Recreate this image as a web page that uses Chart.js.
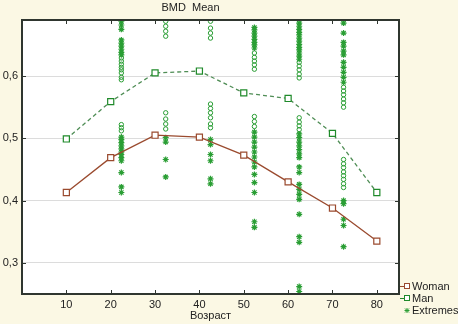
<!DOCTYPE html>
<html><head><meta charset="utf-8">
<script src="https://cdn.jsdelivr.net/npm/chart.js@4.4.1/dist/chart.umd.min.js"></script>
<style>html,body{margin:0;padding:0;background:#fbf8e4;} #wrap{width:458px;height:324px;}</style>
</head><body><div id="wrap"><canvas id="c" width="458" height="324"></canvas></div>
<script>
const chartTitle = 'BMD  Mean';
const xTitle = 'Возраст';
const ages = [10, 20, 30, 40, 50, 60, 70, 80];
const womanMean = [0.413, 0.469, 0.505, 0.502, 0.473, 0.430, 0.388, 0.335];
const manMean = [0.499, 0.559, 0.605, 0.608, 0.573, 0.564, 0.508, 0.413];
const yTicks = [0.3, 0.4, 0.5, 0.6];
const seriesNames = ['Woman', 'Man', 'Extremes'];

// x positions of the outlier/extreme columns
const extremeColumns = [22.4, 32.4, 42.5, 52.4, 62.5, 72.5];
const outliers22 = [0.629, 0.624, 0.619, 0.614, 0.610, 0.605, 0.598, 0.594, 0.522, 0.517, 0.512];
const extremes22 = [0.688, 0.682, 0.675, 0.658, 0.653, 0.648, 0.643, 0.638, 0.634, 0.502, 0.498, 0.493, 0.488, 0.483, 0.478, 0.474, 0.469, 0.464, 0.445, 0.422, 0.413];
const outliers32 = [0.688, 0.680, 0.672, 0.664, 0.541, 0.531, 0.523, 0.515];
const extremes32 = [0.501, 0.494, 0.466, 0.438];
const outliers42 = [0.688, 0.677, 0.669, 0.661, 0.555, 0.548, 0.541, 0.533, 0.523, 0.517];
const extremes42 = [0.498, 0.490, 0.474, 0.464, 0.435, 0.427];
const outliers52 = [0.637, 0.630, 0.624, 0.618, 0.611, 0.535, 0.527, 0.519];
const extremes52 = [0.678, 0.674, 0.669, 0.664, 0.659, 0.654, 0.650, 0.645, 0.510, 0.502, 0.494, 0.486, 0.478, 0.470, 0.462, 0.454, 0.442, 0.429, 0.413, 0.366, 0.357];
const outliers62 = [0.622, 0.616, 0.610, 0.603, 0.597, 0.533, 0.526, 0.520, 0.514];
const extremes62 = [0.685, 0.680, 0.675, 0.670, 0.666, 0.661, 0.656, 0.651, 0.646, 0.642, 0.637, 0.632, 0.627, 0.507, 0.501, 0.494, 0.488, 0.482, 0.475, 0.469, 0.454, 0.445, 0.426, 0.418, 0.410, 0.402, 0.378, 0.342, 0.333, 0.262, 0.254];
const outliers72 = [0.582, 0.576, 0.570, 0.563, 0.557, 0.550, 0.466, 0.459, 0.453, 0.446, 0.440, 0.434, 0.427, 0.421];
const extremes72 = [0.685, 0.669, 0.654, 0.648, 0.640, 0.634, 0.622, 0.614, 0.606, 0.598, 0.590, 0.400, 0.395, 0.370, 0.360, 0.326];

const outlierCols = [outliers22, outliers32, outliers42, outliers52, outliers62, outliers72];
const extremeCols = [extremes22, extremes32, extremes42, extremes52, extremes62, extremes72];

const WOMAN = '#9a4a2e', MAN_LINE = '#4f8d55', MAN_PT = '#1f8a2a', EXT = '#2a9e34';
const FONT = 'Liberation Sans, Arial, sans-serif';

function colPoints(cols) {
  const pts = [];
  cols.forEach((vals, i) => vals.forEach(v => pts.push({x: extremeColumns[i], y: v})));
  return pts;
}

const decor = {
  id: 'decor',
  beforeDraw(chart) {
    const {ctx, chartArea: a} = chart;
    ctx.save();
    ctx.fillStyle = '#ffffff';
    ctx.fillRect(a.left, a.top, a.right - a.left, a.bottom - a.top);
    ctx.restore();
  },
  afterDraw(chart) {
    const {ctx, chartArea: a, scales} = chart;
    ctx.save();
    ctx.strokeStyle = '#2f362f';
    ctx.lineWidth = 1;
    ctx.beginPath();
    ages.forEach(v => {
      const px = Math.round(scales.x.getPixelForValue(v)) + 0.5;
      ctx.moveTo(px, a.bottom); ctx.lineTo(px, a.bottom - 4);
      ctx.moveTo(px, a.top); ctx.lineTo(px, a.top + 4);
    });
    yTicks.forEach(v => {
      const py = Math.round(scales.y.getPixelForValue(v)) + 0.5;
      ctx.moveTo(a.left, py); ctx.lineTo(a.left + 4, py);
      ctx.moveTo(a.right, py); ctx.lineTo(a.right - 4, py);
    });
    ctx.stroke();
    ctx.lineWidth = 2;
    ctx.strokeRect(a.left, a.top, a.right - a.left, a.bottom - a.top);
    // title
    ctx.fillStyle = '#222';
    ctx.font = '11px ' + FONT;
    ctx.textAlign = 'center';
    ctx.textBaseline = 'middle';
    ctx.fillText(chartTitle, (a.left + a.right) / 2 - 20, 8);
    // legend
    const lx = a.right + 2;
    const rows = [a.bottom - 8, a.bottom + 4, a.bottom + 16];
    ctx.textAlign = 'left';
    ctx.lineWidth = 1;
    // Woman
    ctx.strokeStyle = WOMAN;
    ctx.beginPath(); ctx.moveTo(lx - 1, rows[0] + 0.5); ctx.lineTo(lx + 3, rows[0] + 0.5); ctx.stroke();
    ctx.fillStyle = '#fff';
    ctx.fillRect(lx + 3.5, rows[0] - 2.5, 5, 5);
    ctx.strokeRect(lx + 3.5, rows[0] - 2.5, 5, 5);
    // Man
    ctx.strokeStyle = MAN_PT;
    ctx.beginPath(); ctx.moveTo(lx - 1, rows[1] + 0.5); ctx.lineTo(lx + 3, rows[1] + 0.5); ctx.stroke();
    ctx.fillRect(lx + 3.5, rows[1] - 2.5, 5, 5);
    ctx.strokeRect(lx + 3.5, rows[1] - 2.5, 5, 5);
    // Extremes (asterisk)
    ctx.strokeStyle = EXT;
    const cx = lx + 6, cy = rows[2] + 0.5;
    ctx.beginPath();
    ctx.moveTo(cx - 2.5, cy); ctx.lineTo(cx + 2.5, cy);
    ctx.moveTo(cx, cy - 2.5); ctx.lineTo(cx, cy + 2.5);
    ctx.moveTo(cx - 2, cy - 2); ctx.lineTo(cx + 2, cy + 2);
    ctx.moveTo(cx - 2, cy + 2); ctx.lineTo(cx + 2, cy - 2);
    ctx.stroke();
    ctx.fillStyle = '#222';
    ctx.font = '11px ' + FONT;
    seriesNames.forEach((n, i) => ctx.fillText(n, lx + 11, rows[i] + 1));
    ctx.restore();
  }
};

new Chart(document.getElementById('c'), {
  type: 'scatter',
  data: {
    datasets: [
      {
        label: seriesNames[0],
        data: ages.map((a, i) => ({x: a, y: womanMean[i]})),
        showLine: true, borderColor: WOMAN, borderWidth: 1.3,
        pointStyle: 'rect', pointRadius: 4.3, pointBorderWidth: 1.2,
        pointBackgroundColor: '#fff', pointBorderColor: WOMAN, order: 1
      },
      {
        label: seriesNames[1],
        data: ages.map((a, i) => ({x: a, y: manMean[i]})),
        showLine: true, borderColor: MAN_LINE, borderWidth: 1.3, borderDash: [4, 3],
        pointStyle: 'rect', pointRadius: 4.3, pointBorderWidth: 1.2,
        pointBackgroundColor: '#fff', pointBorderColor: MAN_PT, order: 2
      },
      {
        label: 'Outliers',
        data: colPoints(outlierCols),
        pointStyle: 'circle', pointRadius: 2.2, pointBorderWidth: 1,
        pointBackgroundColor: 'rgba(255,255,255,0)', pointBorderColor: EXT, order: 4
      },
      {
        label: seriesNames[2],
        data: colPoints(extremeCols),
        pointStyle: 'star', pointRadius: 3, pointBorderWidth: 1.2,
        pointBorderColor: EXT, pointBackgroundColor: EXT, order: 3
      }
    ]
  },
  options: {
    responsive: false,
    devicePixelRatio: 1,
    animation: false,
    layout: {padding: {top: 20, right: 59, left: 0, bottom: 0}},
    plugins: {legend: {display: false}, title: {display: false}, tooltip: {enabled: false}},
    scales: {
      x: {
        type: 'linear', min: 0, max: 85,
        afterBuildTicks: s => { s.ticks = ages.map(v => ({value: v})); },
        afterFit: s => { s.height = 30; },
        grid: {display: false, drawTicks: false},
        border: {display: false},
        ticks: {color: '#222', font: {size: 11, family: FONT}, padding: 4, maxRotation: 0},
        title: {display: true, text: xTitle, color: '#222', font: {size: 11, family: FONT}, padding: {top: 0, bottom: 1}}
      },
      y: {
        min: 0.25, max: 0.69,
        afterBuildTicks: s => { s.ticks = yTicks.map(v => ({value: v})); },
        afterFit: s => { s.width = 22; },
        grid: {color: '#dcdcdc', drawTicks: false, lineWidth: 1},
        border: {display: false},
        ticks: {color: '#222', font: {size: 11, family: FONT}, padding: 4,
          callback: v => v.toFixed(1).replace('.', ',')}
      }
    }
  },
  plugins: [decor]
});
</script>
</body></html>
